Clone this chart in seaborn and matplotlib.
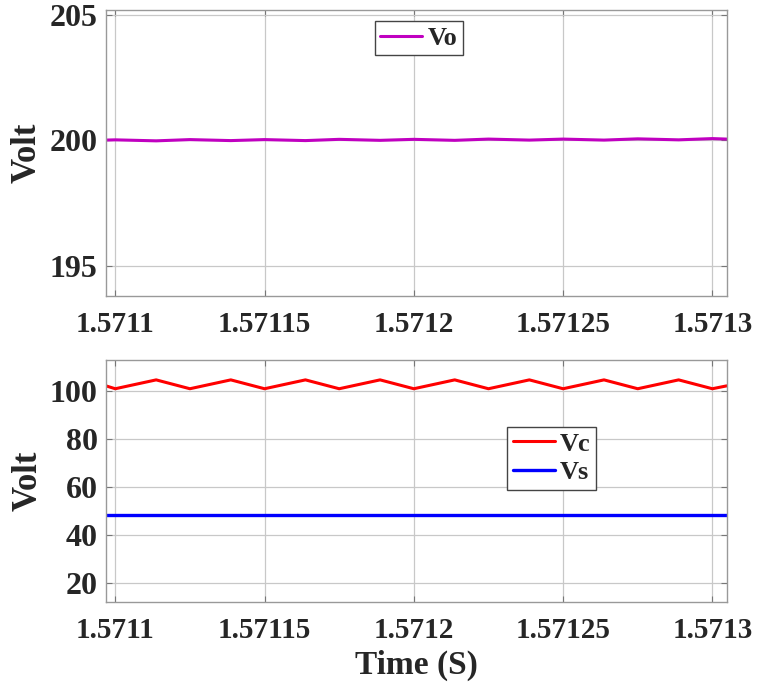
import numpy as np
import pandas as pd
from matplotlib import pyplot as plt
import seaborn as sns

# time samples (s)
time = [1.5710969, 1.5711000, 1.5711137, 1.5711250, 1.5711387, 1.5711500,
        1.5711637, 1.5711750, 1.5711887, 1.5712000, 1.5712137, 1.5712250,
        1.5712387, 1.5712500, 1.5712637, 1.5712750, 1.5712887, 1.5713000,
        1.5713048]

vo = [200.01, 200.02, 199.98, 200.03, 199.99, 200.03,
      199.99, 200.04, 200.00, 200.04, 200.00, 200.05,
      200.01, 200.05, 200.01, 200.06, 200.02, 200.07,
      200.05]

vc = [102.2, 101.0, 104.7, 101.0, 104.7, 101.0,
      104.7, 101.0, 104.7, 101.0, 104.7, 101.0,
      104.7, 101.0, 104.7, 101.0, 104.7, 101.0,
      102.2]

vs = [48.3, 48.3, 48.3, 48.3, 48.3, 48.3,
      48.3, 48.3, 48.3, 48.3, 48.3, 48.3,
      48.3, 48.3, 48.3, 48.3, 48.3, 48.3,
      48.3]

xticks = [1.5711, 1.57115, 1.5712, 1.57125, 1.5713]
xtick_labels = ['1.5711', '1.57115', '1.5712', '1.57125', '1.5713']

df = pd.DataFrame({'t': time, 'Vo': vo, 'Vc': vc, 'Vs': vs})

sns.set_style('ticks')
plt.rcParams['font.family'] = ['Liberation Serif', 'DejaVu Serif']
plt.rcParams['font.weight'] = 'bold'

fig = plt.figure(figsize=(7.6, 6.93), dpi=100)
W, H = 760, 693
ax1 = fig.add_axes([106 / W, 1 - 296 / H, 620.7 / W, 286 / H])
ax2 = fig.add_axes([106 / W, 1 - 602 / H, 620.7 / W, 242 / H])

sns.lineplot(data=df, x='t', y='Vo', ax=ax1, color='#C000C0', linewidth=2.2, label='Vo')
sns.lineplot(data=df, x='t', y='Vc', ax=ax2, color='#FF0000', linewidth=2.2, label='Vc')
sns.lineplot(data=df, x='t', y='Vs', ax=ax2, color='#0000FF', linewidth=2.4, label='Vs')

ax1.set_ylim(193.79, 205.2)
ax1.set_yticks([195, 200, 205])
ax2.set_ylim(11.95, 113)
ax2.set_yticks([20, 40, 60, 80, 100])

for ax in (ax1, ax2):
    ax.set_xlim(1.5710969, 1.5713048)
    ax.set_xticks(xticks)
    ax.set_xticklabels(xtick_labels)
    ax.grid(True, color='#c8c8c8', linewidth=0.9)
    ax.tick_params(direction='in', top=True, right=True,
                   color='#777777', length=4)
    ax.tick_params(axis='x', pad=11, labelsize=21)
    ax.tick_params(axis='y', pad=6, labelsize=23)
    for lab in ax.get_xticklabels() + ax.get_yticklabels():
        lab.set_fontweight('bold')
        lab.set_color('#262626')
    for sp in ax.spines.values():
        sp.set_color('#999999')
        sp.set_linewidth(1.0)
    ax.set_ylabel('Volt', fontsize=25, fontweight='bold', labelpad=4)

ax1.set_xlabel('')
ax2.set_xlabel('Time (S)', fontsize=24, fontweight='bold', labelpad=4)

leg1 = ax1.legend(loc='upper left', bbox_to_anchor=(0.433, 0.9615), fontsize=19,
                  frameon=True, fancybox=False, edgecolor='#444444',
                  handlelength=1.6, handletextpad=0.2, borderpad=0.2,
                  borderaxespad=0)
leg2 = ax2.legend(loc='upper left', bbox_to_anchor=(0.6466, 0.724), fontsize=19,
                  frameon=True, fancybox=False, edgecolor='#444444',
                  handlelength=1.6, handletextpad=0.2, borderpad=0.2,
                  labelspacing=0.2, borderaxespad=0)
for leg in (leg1, leg2):
    leg.get_frame().set_linewidth(1.0)
    leg.get_frame().set_alpha(1)
    for txt in leg.get_texts():
        txt.set_fontweight('bold')

fig.savefig('out.png', dpi=100)
